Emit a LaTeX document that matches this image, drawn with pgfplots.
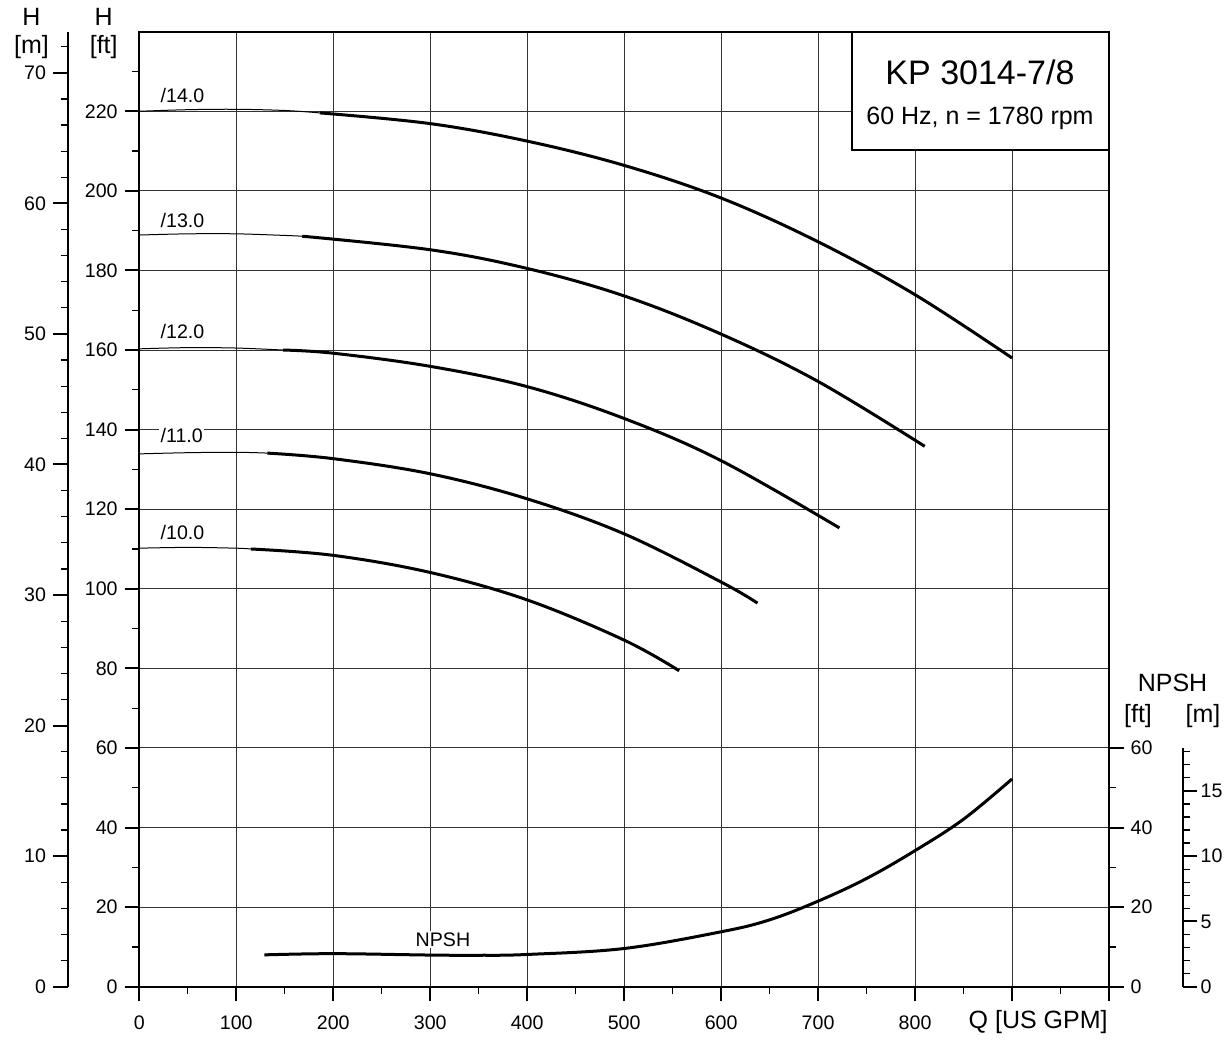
\documentclass[border=0pt]{standalone}
\usepackage{pgfplots}
\pgfplotsset{compat=1.18}
\usepackage{fontspec}
\setmainfont{Liberation Sans}

\newcommand{\tickfont}{\fontsize{9.8}{11}\selectfont}
\newcommand{\labfont}{\fontsize{12.5}{14}\selectfont}

\pgfplotsset{
  pumpaxis/.style={
    scale only axis,
    /pgf/number format/assume math mode=true,
    tick align=outside,
    major tick length=7.3pt,
    minor tick length=3.4pt,
    major tick style={line width=1pt, black},
    minor tick style={line width=0.6pt, black},
    axis line style={line width=1.1pt},
    tick label style={font=\tickfont},
  },
}
\tikzset{
  curve label/.style={anchor=base west, inner sep=0.8pt, fill=white, font=\tickfont},
}

\begin{document}
\begin{tikzpicture}
\useasboundingbox (-69.65pt,-26.65pt) rectangle (544.35pt,493.35pt);

% main chart: Q [US GPM] vs H [ft]
\begin{axis}[pumpaxis,
  at={(0pt,0pt)}, anchor=south west,
  width=484.85pt, height=477.5pt,
  xmin=0, xmax=1000, ymin=0, ymax=240,
  xtick={0,100,...,1000},
  xticklabels={0,100,200,300,400,500,600,700,800,{},{}},
  xticklabel style={yshift=-3.5pt},
  minor xtick={50,150,...,950},
  ytick={0,20,...,220},
  minor ytick={10,30,...,230},
  xtick pos=left, ytick pos=left,
  grid=major,
  major grid style={line width=0.5pt, black!80},
]
% /14.0
\addplot[black, line width=0.5pt, smooth, tension=0.6] coordinates {(0,220.0) (50,220.4) (100,220.5) (150,220.2) (186,219.6)};
\addplot[black, line width=1.5pt, smooth, tension=0.6] coordinates {(186,219.6) (300,216.9) (400,212.5) (500,206.4) (600,198.2) (700,187.2) (800,173.9) (900,158.0)};
% /13.0
\addplot[black, line width=0.5pt, smooth, tension=0.6] coordinates {(0,188.9) (50,189.2) (100,189.2) (150,188.8) (168,188.6)};
\addplot[black, line width=1.5pt, smooth, tension=0.6] coordinates {(168,188.6) (300,185.2) (400,180.5) (500,173.6) (600,164.0) (700,152.1) (810,135.8)};
% /12.0
\addplot[black, line width=0.5pt, smooth, tension=0.6] coordinates {(0,160.3) (50,160.6) (100,160.5) (148,160.0)};
\addplot[black, line width=1.5pt, smooth, tension=0.6] coordinates {(148,160.0) (200,159.2) (300,155.9) (400,150.8) (500,142.8) (600,132.2) (722,115.3)};
% /11.0
\addplot[black, line width=0.5pt, smooth, tension=0.6] coordinates {(0,133.9) (50,134.2) (100,134.3) (132,134.1)};
\addplot[black, line width=1.5pt, smooth, tension=0.6] coordinates {(132,134.1) (200,132.7) (300,128.9) (400,122.6) (500,113.8) (600,101.7) (637.5,96.4)};
% /10.0
\addplot[black, line width=0.5pt, smooth, tension=0.6] coordinates {(0,110.2) (50,110.4) (100,110.2) (115,110.0)};
\addplot[black, line width=1.5pt, smooth, tension=0.6] coordinates {(115,110.0) (200,108.4) (300,104.1) (400,97.2) (500,87.1) (556.7,79.4)};
% NPSH
\addplot[black, line width=1.5pt, smooth, tension=0.6] coordinates {(129,8.0) (200,8.3) (300,7.95) (350,7.9) (400,8.1) (500,9.6) (600,13.8) (650,16.8) (700,21.5) (750,27.2) (800,34.2) (850,42.1) (900,52.2)};

\node[curve label] at (axis cs:20,222.2) {/14.0};
\node[curve label] at (axis cs:20,190.8) {/13.0};
\node[curve label] at (axis cs:20,162.8) {/12.0};
\node[curve label] at (axis cs:20,136.7) {/11.0};
\node[curve label] at (axis cs:20,112.4) {/10.0};
\node[curve label] at (axis cs:283,10.1) {NPSH};
\end{axis}

% H [m] scale on the left
\begin{axis}[pumpaxis,
  at={(-35.8pt,0pt)}, anchor=south west,
  width=10pt, height=477.5pt,
  hide x axis, axis y line*=left,
  xmin=0, xmax=1, ymin=0, ymax=73.152,
  ytick={0,10,...,70}, minor ytick={2,4,...,72},
]
\end{axis}

% NPSH [ft] scale on the right frame
\begin{axis}[pumpaxis,
  at={(0pt,0pt)}, anchor=south west,
  width=484.85pt, height=477.5pt,
  hide x axis, axis y line*=right,
  xmin=0, xmax=1, ymin=0, ymax=240,
  ytick={0,20,40,60}, minor ytick={10,30,50},
]
\end{axis}

% NPSH [m] scale
\begin{axis}[pumpaxis,
  at={(521.7pt,0pt)}, anchor=south east,
  width=10pt, height=119.375pt,
  hide x axis, axis y line*=right,
  xmin=0, xmax=1, ymin=0, ymax=18.288,
  ytick={0,5,10,15}, minor ytick={1,2,...,18},
  yticklabel style={inner sep=1.5pt},
]
\end{axis}

% title box
\draw[line width=1.1pt, fill=white] (356.5pt,418.35pt) rectangle (484.85pt,477.5pt);
\node[font=\fontsize{17}{20}\selectfont, anchor=base] at (420.35pt,450.85pt) {KP 3014-7/8};
\node[font=\fontsize{12.5}{14}\selectfont, anchor=base] at (420.35pt,431.2pt) {60 Hz, n = 1780 rpm};

% axis titles
\node[font=\labfont, anchor=base] at (-53.9pt,480.35pt) {H};
\node[font=\labfont, anchor=base] at (-53.9pt,466.7pt) {[m]};
\node[font=\labfont, anchor=base] at (-17.8pt,480.35pt) {H};
\node[font=\labfont, anchor=base] at (-17.8pt,466.7pt) {[ft]};
\node[font=\labfont, anchor=base] at (516.6pt,147.5pt) {NPSH};
\node[font=\labfont, anchor=base] at (499.35pt,132.3pt) {[ft]};
\node[font=\labfont, anchor=base] at (531.85pt,132.3pt) {[m]};
\node[font=\labfont, anchor=base east, inner sep=0pt] at (484.35pt,-21.15pt) {Q [US GPM]};
\end{tikzpicture}
\end{document}
